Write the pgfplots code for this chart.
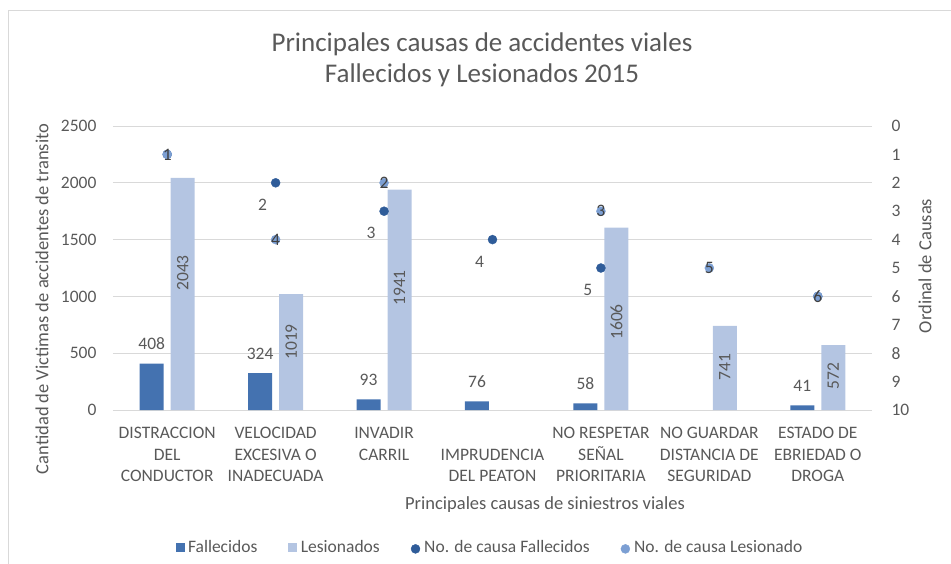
\documentclass[border=0pt]{standalone}
\usepackage{pgfplots}
\usepackage{pgfplotstable}
\pgfplotsset{compat=1.18}
\usepackage{fontspec}
\setmainfont{Carlito}
\definecolor{darkbar}{HTML}{4472B0}
\definecolor{lightbar}{HTML}{B4C5E2}
\definecolor{darkpt}{HTML}{2F5C99}
\definecolor{lightpt}{HTML}{7C9FD3}
\definecolor{txt}{HTML}{595959}
\definecolor{gridc}{HTML}{D9D9D9}
\newcommand{\fs}{\fontsize{17.5}{21.5}\selectfont}

\pgfplotstableread{
x y
0 408
1 324
2 93
3 76
4 58
6 41
}\fallecidos
\pgfplotstableread{
x y
0 2043
1 1019
2 1941
4 1606
5 741
6 572
}\lesionados
\pgfplotstableread{
x y v
0 1206 2043
1 599 1019
2 1074 1941
4 775 1606
5 378 741
6 299 572
}\lesionlabels
\pgfplotstableread{
x r
1 2
2 3
3 4
4 5
}\rankfallA
\pgfplotstableread{
x r
0 1
6 6
}\rankfallB
\pgfplotstableread{
x r
0 1
1 4
2 2
4 3
5 5
6 6
}\ranklesion

\begin{document}
\begin{tikzpicture}[x=1pt,y=1pt]
% picture coordinates: (X-113, 410-Y) for reference pixel (X,Y)
\draw[gridc, line width=1pt] (-104,399) rectangle (900,-250);
\begin{axis}[
  name=main,
  width=759pt, height=284pt, scale only axis,
  xmin=-0.5, xmax=6.5, ymin=0, ymax=2500,
  axis line style={draw=none},
  major tick length=0pt,
  ymajorgrids, grid style={gridc, line width=1pt},
  ytick={0,500,...,2500},
  /pgf/number format/assume math mode=true,
  /pgf/number format/1000 sep={},
  yticklabel style={txt, font=\fs, xshift=-13pt},
  xtick={0,...,6},
  xticklabels={{DISTRACCION\\DEL\\CONDUCTOR},{VELOCIDAD\\EXCESIVA O\\INADECUADA},{INVADIR\\CARRIL},{\vphantom{D}\\IMPRUDENCIA\\DEL PEATON},{NO RESPETAR\\SEÑAL\\PRIORITARIA},{NO GUARDAR\\DISTANCIA DE\\SEGURIDAD},{ESTADO DE\\EBRIEDAD O\\DROGA}},
  xticklabel style={txt, font=\fs, align=center, anchor=north, yshift=-14pt},
  legend style={at={(0.4967,-0.482)}, anchor=center, draw=none, fill=none,
    font=\fs, text=txt, legend columns=4,
    /tikz/every even column/.append style={column sep=29pt},
    /tikz/every odd column/.append style={column sep=2pt}},
  legend cell align=left,
]
\addlegendimage{legend image code/.code={\fill[darkbar] (0pt,-4pt) rectangle (8pt,4pt);}}
\addlegendentry{Fallecidos}
\addlegendimage{legend image code/.code={\fill[lightbar] (0pt,-4pt) rectangle (8pt,4pt);}}
\addlegendentry{Lesionados}
\addlegendimage{legend image code/.code={\fill[darkpt] (4pt,-2pt) circle (4.5pt);}}
\addlegendentry{No. de causa Fallecidos}
\addlegendimage{legend image code/.code={\fill[lightpt] (4pt,-2pt) circle (4.5pt);}}
\addlegendentry{No. de causa Lesionado}

\addplot[ybar, bar width=24pt, bar shift=-15.5pt, fill=darkbar, draw=none,
  nodes near coords, every node near coord/.append style={txt, font=\fs, xshift=-15.5pt, yshift=10pt}]
  table[x=x, y=y] {\fallecidos};
\addplot[ybar, bar width=24pt, bar shift=15.5pt, fill=lightbar, draw=none]
  table[x=x, y=y] {\lesionados};
\addplot[ybar, bar width=24pt, bar shift=15.5pt, fill=none, draw=none,
  point meta=explicit, nodes near coords,
  every node near coord/.append style={txt, font=\fs, xshift=15.5pt, anchor=center, rotate=90}]
  table[x=x, y=y, meta=v] {\lesionlabels};
\end{axis}
\begin{axis}[
  at={(main.center)}, anchor=center,
  width=759pt, height=284pt, scale only axis,
  xmin=-0.5, xmax=6.5, ymin=0, ymax=10, y dir=reverse,
  axis y line*=right, hide x axis,
  axis line style={draw=none},
  major tick length=0pt,
  ytick={0,...,10},
  /pgf/number format/assume math mode=true,
  yticklabel style={txt, font=\fs, xshift=16pt},
]
\addplot[only marks, mark=*, mark size=4.5pt, darkpt,
  point meta=explicit, nodes near coords,
  every node near coord/.append style={txt, font=\fs, anchor=center, xshift=-13pt, yshift=-22pt}]
  table[x=x, y=r, meta=r] {\rankfallA};
\addplot[only marks, mark=*, mark size=4.5pt, darkpt]
  table[x=x, y=r] {\rankfallB};
\addplot[only marks, mark=*, mark size=4.5pt, lightpt,
  point meta=explicit, nodes near coords,
  every node near coord/.append style={text=black!75, font=\fs, anchor=center}]
  table[x=x, y=r, meta=r] {\ranklesion};
\end{axis}
\node[txt, font=\fontsize{27}{31}\selectfont, align=center] at (369,350.5)
  {Principales causas de accidentes viales\\Fallecidos y Lesionados 2015};
\node[txt, font=\fontsize{18.5}{22}\selectfont, rotate=90] at (-71,111)
  {Cantidad de Victimas de accidentes de transito};
\node[txt, font=\fontsize{18.5}{22}\selectfont] at (432,-95)
  {Principales causas de siniestros viales};
\node[txt, font=\fontsize{18.5}{22}\selectfont, rotate=90] at (812,144)
  {Ordinal de Causas};
\pgfresetboundingbox
\path[use as bounding box] (-113,410) rectangle (838,-153);
\end{tikzpicture}
\end{document}
